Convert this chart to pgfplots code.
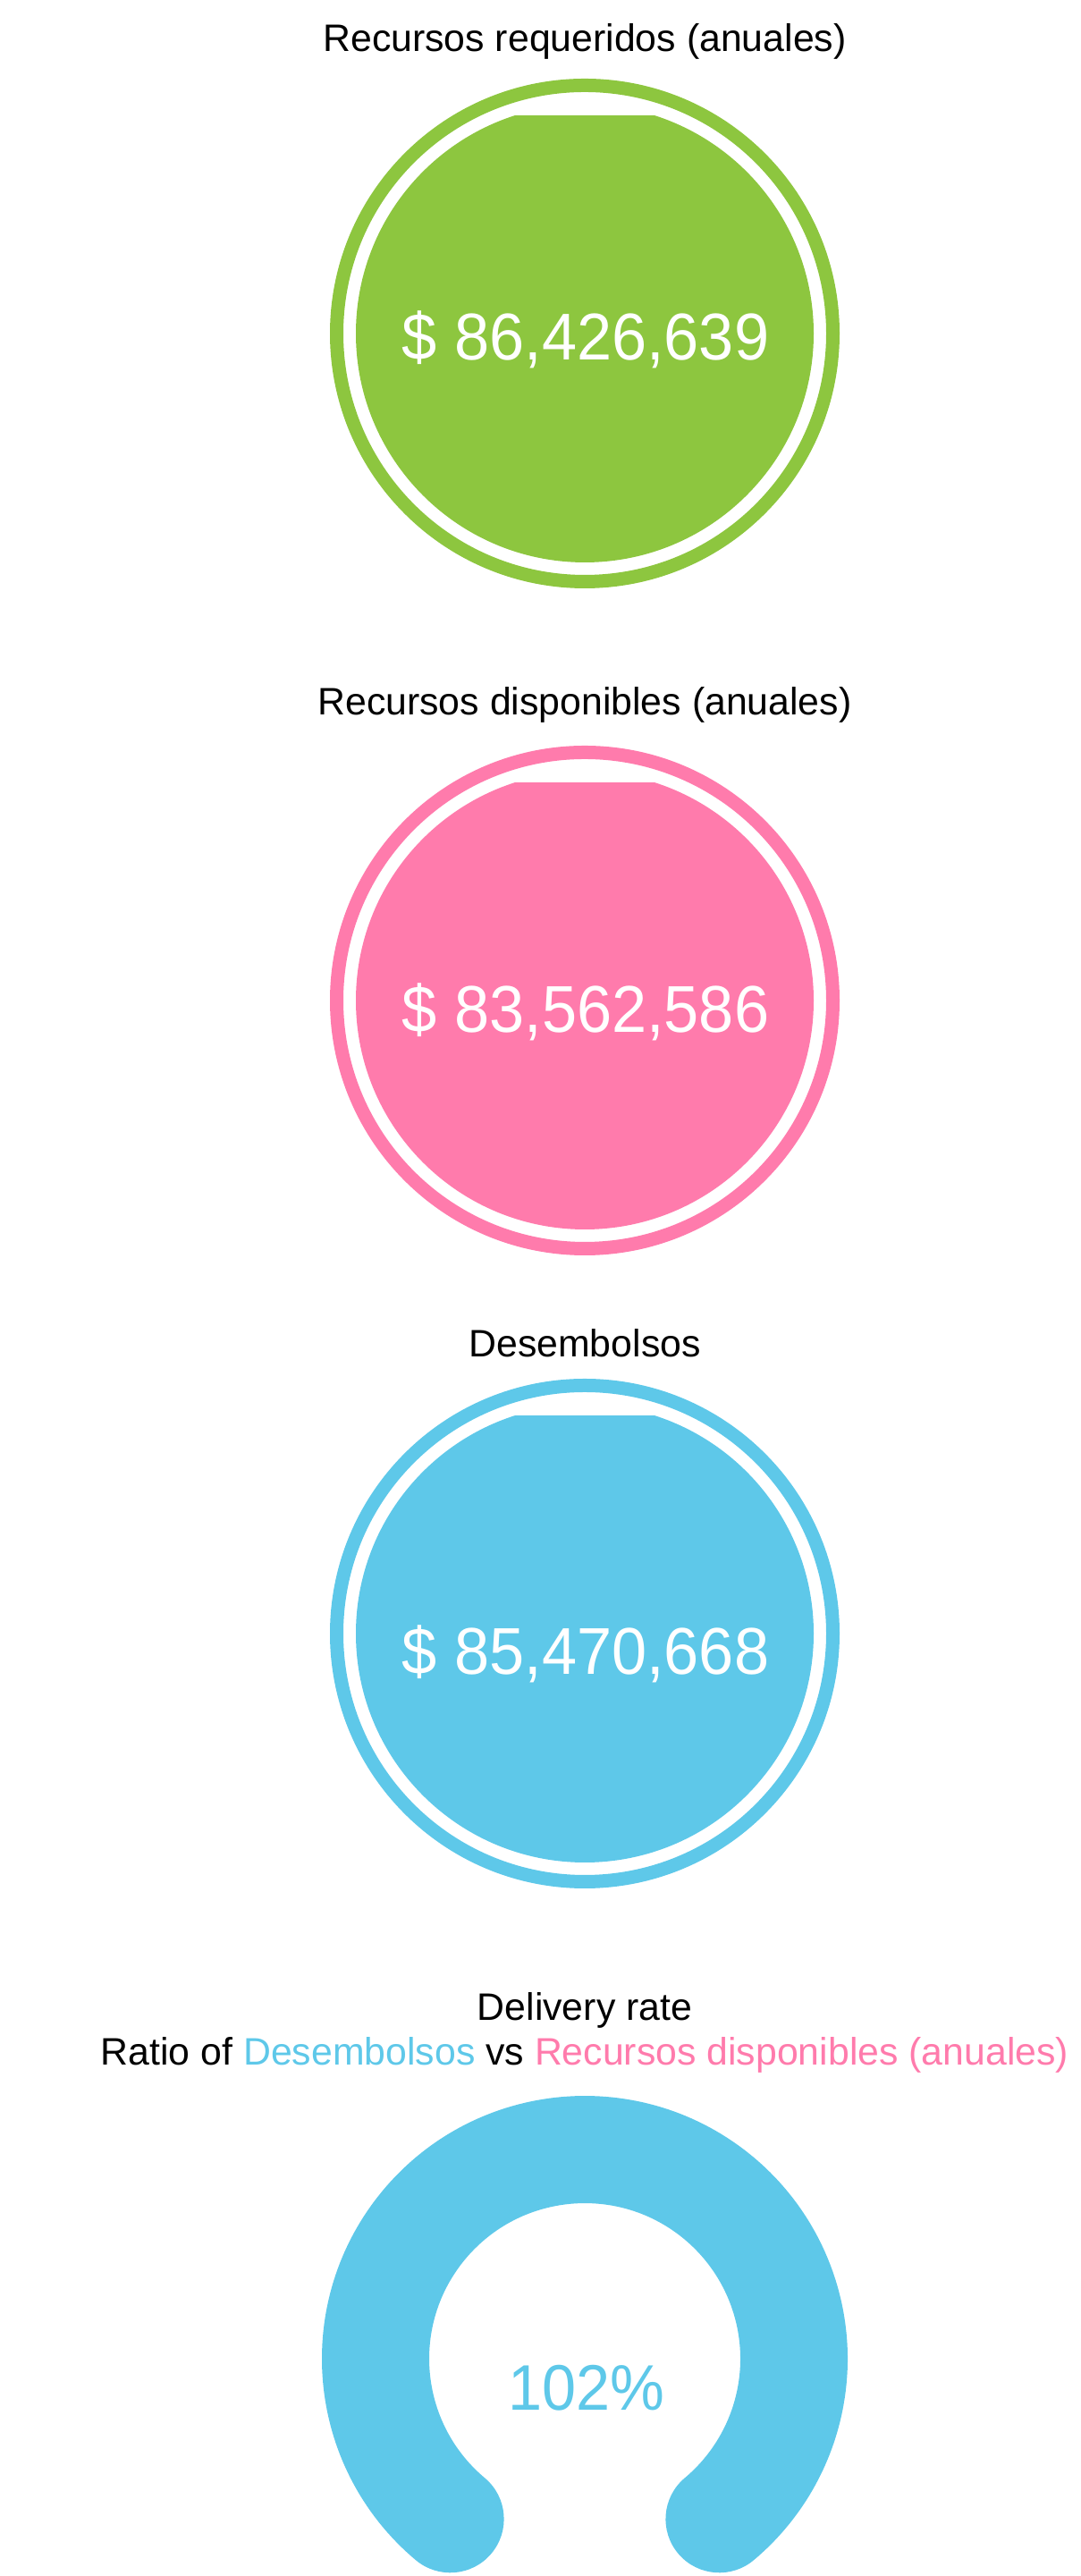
\documentclass[border=0pt]{standalone}
\usepackage{fontspec}
\setmainfont{Liberation Sans}
\newfontfamily\valfont[FakeStretch=0.95]{Liberation Sans}
\usepackage{pgfplots}
\pgfplotsset{compat=1.18}

\definecolor{cgreen}{RGB}{141,198,63}
\definecolor{cpink}{RGB}{255,123,172}
\definecolor{cblue}{RGB}{94,200,233}

% one axis unit = one pixel of the reference (0.25pt)
\newcommand{\card}[6]{% color, centre y, title baseline, value baseline, title, value
  \begin{scope}
    \clip (axis cs:0,0) rectangle (axis cs:1209,#2+243);
    \fill[#1] (axis cs:654,#2) circle[radius=256];
  \end{scope}
  \draw[#1, line width=3.75pt] (axis cs:654,#2) circle[radius=277.5];
  \node[anchor=base, inner sep=0pt, font=\fontsize{10.7}{12}\selectfont]
    at (axis cs:654,#3) {#5};
  \node[anchor=base, inner sep=0pt, text=white, font=\valfont\fontsize{18.5}{20}\selectfont]
    at (axis cs:655,#4) {#6};
}

\begin{document}
\begin{tikzpicture}
\begin{axis}[
    scale only axis,
    width=302.25pt, height=720.25pt,
    xmin=0, xmax=1209, ymin=0, ymax=2881,
    hide axis, clip=false,
  ]
  \path (axis cs:0,0) rectangle (axis cs:1209,2881);

  \card{cgreen}{2508}{2823}{2478}{Recursos requeridos (anuales)}{\$ 86,426,639}
  \card{cpink}{1762}{2081}{1726}{Recursos disponibles (anuales)}{\$ 83,562,586}
  \card{cblue}{1054}{1363}{1008}{Desembolsos}{\$ 85,470,668}

  % delivery rate gauge (102%, capped at full arc)
  \node[anchor=base, inner sep=0pt, font=\fontsize{10.7}{12}\selectfont]
    at (axis cs:654,621.5) {Delivery rate};
  \node[anchor=base, inner sep=0pt, font=\fontsize{10.7}{12}\selectfont]
    at (axis cs:654,571) {Ratio of \textcolor{cblue}{Desembolsos} vs \textcolor{cpink}{Recursos disponibles (anuales)}};
  \draw[cblue, line width=30pt, line cap=round]
    (axis cs:503.6,63.7) arc[start angle=230, end angle=-50, radius=234];
  \node[anchor=base, inner sep=0pt, text=cblue, font=\valfont\fontsize{18}{20}\selectfont]
    at (axis cs:656,185) {102\%};
\end{axis}
\end{tikzpicture}
\end{document}
